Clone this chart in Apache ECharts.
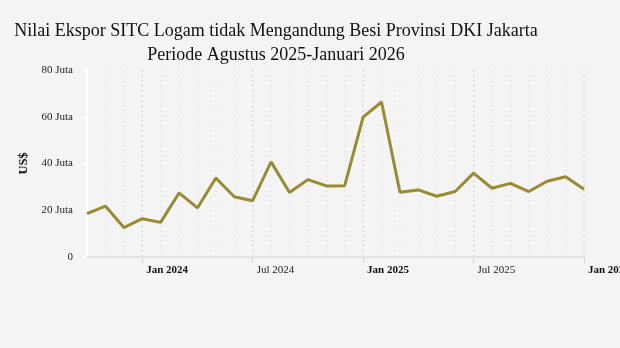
<!DOCTYPE html>
<html>
<head>
<meta charset="utf-8">
<script src="https://cdn.jsdelivr.net/npm/echarts@6/dist/echarts.min.js"></script>
<style>
  html, body { margin: 0; padding: 0; background: #f4f4f4; }
  #chart { width: 620px; height: 348px; }
</style>
</head>
<body>
<div id="chart"></div>
<script>
// Monthly periods, Oct 2023 – Jan 2026
const months = [
  'Oct 2023', 'Nov 2023', 'Dec 2023',
  'Jan 2024', 'Feb 2024', 'Mar 2024', 'Apr 2024', 'May 2024', 'Jun 2024',
  'Jul 2024', 'Aug 2024', 'Sep 2024', 'Oct 2024', 'Nov 2024', 'Dec 2024',
  'Jan 2025', 'Feb 2025', 'Mar 2025', 'Apr 2025', 'May 2025', 'Jun 2025',
  'Jul 2025', 'Aug 2025', 'Sep 2025', 'Oct 2025', 'Nov 2025', 'Dec 2025',
  'Jan 2026'
];

// Export value, million US$ (Juta)
const exportValue = [
  18.6, 21.8, 12.6,
  16.4, 14.8, 27.4, 21.0, 33.8, 25.8,
  24.1, 40.7, 27.6, 33.1, 30.4, 30.5,
  59.8, 66.3, 27.7, 28.7, 26.0, 28.0,
  35.9, 29.4, 31.5, 28.0, 32.4, 34.3,
  29.0
];

const yTicks = [0, 20, 40, 60, 80];

const titleText = 'Nilai Ekspor SITC Logam tidak Mengandung Besi Provinsi DKI Jakarta\nPeriode Agustus 2025-Januari 2026';

const isMajor = (idx) => months[idx].startsWith('Jan') || months[idx].startsWith('Jul');

const chart = echarts.init(document.getElementById('chart'), null, { renderer: 'canvas' });

chart.setOption({
  backgroundColor: '#f4f4f4',
  animation: false,
  textStyle: { fontFamily: '"Liberation Serif", "DejaVu Serif", serif' },
  title: {
    text: titleText,
    left: 276,
    top: 19,
    textAlign: 'center',
    padding: 0,
    textStyle: {
      fontFamily: '"Liberation Serif", serif',
      fontSize: 18,
      fontWeight: 'normal',
      color: '#111',
      lineHeight: 24
    }
  },
  grid: { left: 87, right: 36, top: 70, bottom: 91, containLabel: false, outerBoundsMode: 'none' },
  xAxis: {
    type: 'category',
    data: months,
    boundaryGap: false,
    axisLine: { show: true, lineStyle: { color: '#e2e2e2', width: 2 } },
    axisTick: {
      show: true,
      interval: (idx) => isMajor(idx),
      length: 6,
      lineStyle: { color: '#d6d6d6', width: 1 }
    },
    axisLabel: {
      interval: (idx) => isMajor(idx),
      align: 'left',
      margin: 8,
      padding: [0, 0, 0, 4],
      fontSize: 11,
      color: '#222',
      hideOverlap: false,
      fontFamily: '"Liberation Serif", serif',
      formatter: (v) => v.startsWith('Jan') ? '{b|' + v + '}' : v,
      rich: { b: { fontWeight: 'bold', fontSize: 11, color: '#111', fontFamily: '"Liberation Serif", serif' } }
    },
    splitLine: {
      show: true,
      interval: 0,
      lineStyle: {
        color: ['#e7e7e7', '#e7e7e7', '#e7e7e7', '#d9d9d9', '#e7e7e7', '#e7e7e7'],
        type: [2, 3],
        width: 1.5
      }
    }
  },
  yAxis: {
    type: 'value',
    min: yTicks[0],
    max: yTicks[yTicks.length - 1],
    interval: 20,
    name: 'US$',
    nameLocation: 'middle',
    nameGap: 56,
    nameRotate: 90,
    nameTextStyle: { fontFamily: '"Liberation Serif", serif', fontWeight: 'bold', fontSize: 12.5, color: '#111' },
    axisLine: { show: true, lineStyle: { color: '#ffffff', width: 2 } },
    axisTick: { show: true, length: 5, lineStyle: { color: '#ffffff', width: 1.5 } },
    splitLine: { show: false },
    axisLabel: {
      margin: 14,
      fontSize: 11,
      color: '#222',
      fontFamily: '"Liberation Serif", serif',
      formatter: (v) => v === 0 ? '0' : v + ' Juta'
    }
  },
  series: [{
    type: 'line',
    data: exportValue,
    symbol: 'none',
    lineStyle: { color: '#9b8a34', width: 3 },
    itemStyle: { color: '#9b8a34' }
  }]
});
</script>
</body>
</html>
